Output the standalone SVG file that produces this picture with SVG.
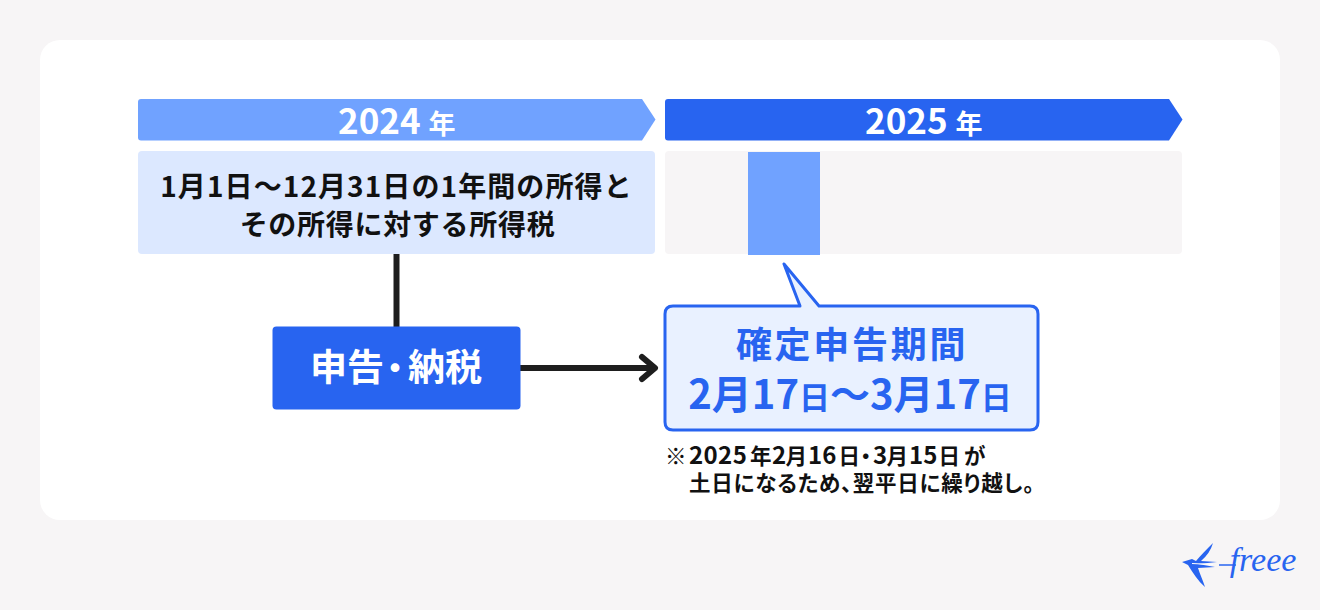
<svg xmlns="http://www.w3.org/2000/svg" width="1320" height="610" viewBox="0 0 1320 610">
<style>
text{font-family:"Noto Sans CJK JP","Noto Sans",sans-serif;font-weight:700;text-anchor:middle}
.s{text-anchor:start}
.k{fill:#111}.w{fill:#fff}.b{fill:#2864f0}
.c{fill:none;stroke:#1e1e1e;stroke-width:6}
.n{font-size:21.500px}.d{font-size:24px}
</style>
<rect width="1320" height="610" fill="#f7f5f6"/>
<rect x="40" y="40" width="1240" height="480" rx="20" fill="#fff"/>
<g id="connectors">
<path class="c" d="M396.500 254V327"/>
<path class="c" d="M520 368H654"/>
<path class="c" stroke-linecap="round" stroke-linejoin="round" d="M642 357L655 368L642 379"/>
</g>
<g id="year-2024">
<path d="M141 99H642L655.500 119.500L642 140.500H141Q138 140.500 138 137.500V102Q138 99 141 99Z" fill="#70a2ff"/>
<text x="338" y="134" class="w s" font-size="35">2024<tspan x="428.500" font-size="27">年</tspan></text>
</g>
<g id="year-2025">
<path d="M668 99H1169L1182.500 119.500L1169 140.500H668Q665 140.500 665 137.500V102Q665 99 668 99Z" fill="#2864f0"/>
<text x="865" y="134" class="w s" font-size="35">2025<tspan x="955.500" font-size="27">年</tspan></text>
</g>
<g id="income-box">
<rect x="138" y="151" width="517" height="103" rx="4" fill="#dce8ff"/>
<text x="396.500" y="197" class="k" font-size="28" letter-spacing="1.100">1月1日〜12月31日の1年間の所得と</text>
<text x="397.500" y="235" class="k" font-size="28" letter-spacing="0.700">その所得に対する所得税</text>
</g>
<g id="period-bar">
<rect x="665" y="151" width="517" height="103" rx="4" fill="#f7f5f6"/>
<rect x="748" y="152" width="72" height="103" fill="#70a2ff"/>
</g>
<g id="filing-box">
<rect x="272.500" y="326.500" width="248" height="83" rx="4" fill="#2864f0"/>
<text x="310" y="381" class="w s" font-size="37">申告<tspan x="378" font-size="34">・</tspan><tspan x="408">納税</tspan></text>
</g>
<g id="callout">
<path d="M673 306H800L784 264L819 306H1030Q1038 306 1038 314V422Q1038 430 1030 430H673Q665 430 665 422V314Q665 306 673 306Z" fill="#e9f1ff" stroke="#2864f0" stroke-width="3" stroke-linejoin="round"/>
<text x="852" y="358" class="b" font-size="36" letter-spacing="2.700">確定申告期間</text>
<text x="850" y="409" class="b" font-size="40">2月17<tspan font-size="31">日</tspan>〜3月17<tspan font-size="31">日</tspan></text>
</g>
<g id="note">
<text y="464" class="k s n">
<tspan x="665">※</tspan><tspan x="689" class="d" letter-spacing="0.400">2025</tspan><tspan x="750">年</tspan><tspan x="772" class="d">2</tspan><tspan x="785.500">月</tspan><tspan x="808" class="d">16</tspan><tspan x="838.500">日</tspan><tspan x="855">・</tspan><tspan x="873" class="d">3</tspan><tspan x="886.500">月</tspan><tspan x="909" class="d">15</tspan><tspan x="938.500">日</tspan><tspan x="964">が</tspan>
</text>
<text x="689" y="491" class="k s" font-size="21.500" style="font-feature-settings:'palt'" letter-spacing="0.800">土日になるため、翌平日に繰り越し。</text>
</g>
<g id="logo">
<path d="M1182 562L1192 559L1196 561C1201 555 1207 549 1213 543C1211 550 1207 556 1201 561L1217 562L1198 564L1215 567L1198 568C1200 574 1203 581 1205 587C1198 581 1193 573 1188 565Z" fill="#2864f0"/>
<path d="M1192 563.500L1213 564.500" stroke="#fff" stroke-width="1" fill="none"/>
<path d="M1219 565H1236" stroke="#2864f0" stroke-width="1.500" fill="none"/>
<text x="1263" y="571" class="b" font-size="34" style="font-family:'Liberation Serif',serif;font-style:italic;font-weight:400">freee</text>
</g>
</svg>
